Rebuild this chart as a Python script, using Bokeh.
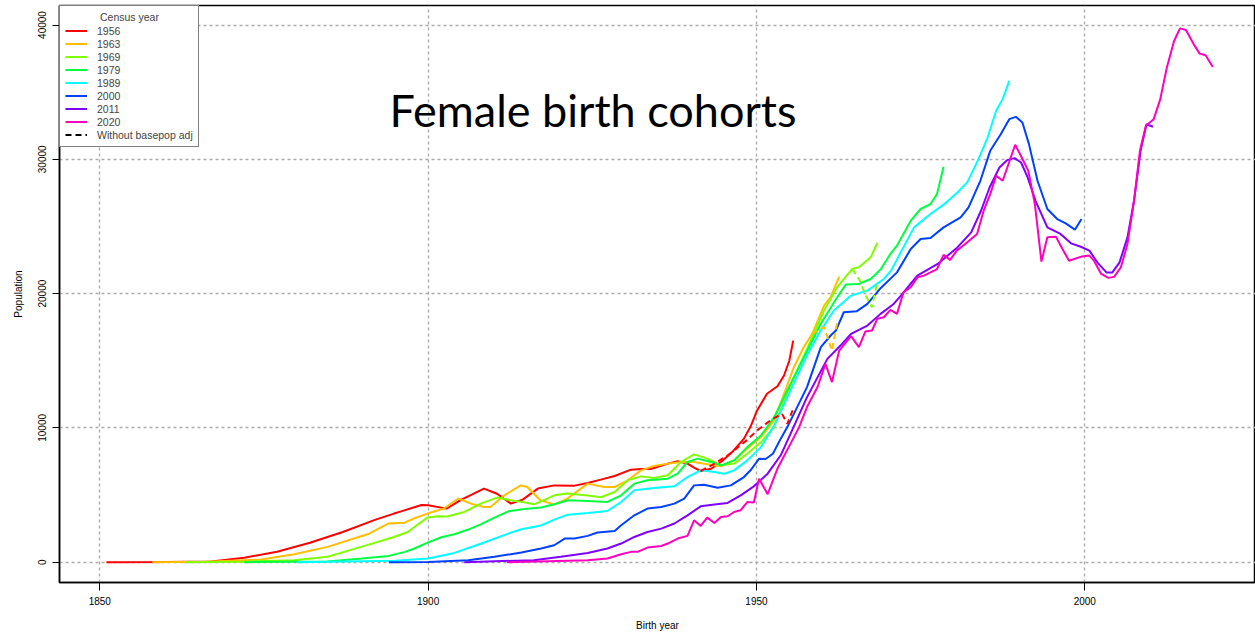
from bokeh.plotting import figure
from bokeh.models import Legend, LegendItem, FixedTicker, Range1d
from bokeh.core.properties import value
from bokeh.embed import file_html
from bokeh.resources import INLINE

census_years = ["1956", "1963", "1969", "1979", "1989", "2000", "2011", "2020"]
colors = ["#FF0000", "#FFBF00", "#80FF00", "#00FF40", "#00FFFF", "#0040FF", "#8000FF", "#FF00BF"]
x_ticks = [1850, 1900, 1950, 2000]
y_ticks = [0, 10000, 20000, 30000, 40000]

yr_1956 = [1851, 1860, 1867, 1872, 1877,
           1882, 1887, 1892, 1894.8, 1896,
           1899, 1900, 1902.8, 1905, 1908.5,
           1910.5, 1912.6, 1914.4, 1916.7, 1919.2,
           1922.3, 1924.3, 1926.3, 1928.4, 1930.9,
           1932.4, 1933.9, 1936.5, 1938, 1939.5,
           1940.5, 1941.5, 1943.1, 1944.6, 1946.3,
           1948.1, 1949.2, 1950.1, 1951.6, 1953.2,
           1954.2, 1955, 1955.6]
pop_1956 = [0, 10, 60, 330, 780,
            1450, 2250, 3170, 3620, 3800,
            4260, 4240, 3990, 4640, 5480,
            5100, 4360, 4660, 5480, 5720,
            5700, 5900, 6150, 6420, 6890,
            6940, 6940, 7340, 7510, 7340,
            7040, 6790, 6960, 7460, 8200,
            9200, 10200, 11300, 12540, 13100,
            13900, 15000, 16500]
yr_1956_nb = [1941.5, 1943.5, 1946, 1948.5, 1950.1, 1952.1, 1953.9, 1954.7, 1955.5]
pop_1956_nb = [6790, 7300, 8080, 9070, 9810, 10550, 11050, 10300, 11300]

yr_1963 = [1858, 1866, 1874.6, 1879.6, 1884.7,
           1888.7, 1890.8, 1893.9, 1896.4, 1897.8,
           1899.9, 1902.4, 1904.6, 1906.5, 1908.5,
           1909.5, 1911.6, 1914.1, 1915.1, 1917.1,
           1919.2, 1921.2, 1924.3, 1926.8, 1928.4,
           1930.4, 1932.4, 1934.4, 1936.5, 1938.5,
           1940.5, 1942.5, 1944.6, 1946.6, 1948.6,
           1950.7, 1952.7, 1954.2, 1955.7, 1957.2,
           1958.5, 1960.3, 1961.3, 1962.6]
pop_1963 = [0, 30, 200, 590, 1140,
            1760, 2080, 2880, 2940, 3250,
            3620, 3990, 4740, 4360, 4110,
            4110, 4980, 5720, 5600, 4610,
            4290, 4730, 5850, 5600, 5600,
            6100, 6840, 7160, 7340, 7460,
            7460, 7290, 7140, 7580, 8450,
            9320, 10560, 12540, 14520, 16010,
            17000, 19110, 19730, 21260]
yr_1963_nb = [1958.5, 1960.3, 1961.5, 1962.3]
pop_1963_nb = [17000, 17500, 15760, 17870]

yr_1969 = [1863, 1872, 1879.6, 1884.7, 1889.8,
           1894.8, 1896.9, 1897.9, 1899.9, 1901.4,
           1902.9, 1905.5, 1908, 1910.5, 1912.6,
           1914.6, 1916.1, 1917.6, 1919.2, 1921.2,
           1924.3, 1926.3, 1928.4, 1930.4, 1932.4,
           1934.4, 1936.5, 1938.5, 1940.5, 1942.5,
           1944.6, 1946.6, 1948.6, 1950.7, 1952.7,
           1954.7, 1957.7, 1960.3, 1962.3, 1963.6,
           1964.6, 1965.6, 1967.4, 1968.4]
pop_1969 = [0, 40, 150, 400, 1140,
            1880, 2250, 2620, 3320, 3420,
            3400, 3740, 4360, 4810, 4610,
            4460, 4310, 4610, 4980, 5110,
            4960, 4840, 5230, 6100, 6390,
            6270, 6470, 7460, 8030, 7710,
            7210, 7340, 8080, 8940, 10060,
            12660, 15890, 18740, 20470, 21260,
            21830, 21960, 22700, 23770]
yr_1969_nb = [1964.6, 1965.7, 1966.6, 1967.6, 1968.4]
pop_1969_nb = [21830, 21000, 19900, 18980, 20900]

yr_1979 = [1872, 1884.7, 1889.9, 1894, 1896.5,
           1897.9, 1900, 1902, 1904, 1906.1,
           1908.1, 1910.1, 1912.2, 1914.7, 1917.2,
           1919.2, 1921.3, 1924.3, 1927.3, 1929.4,
           1931.4, 1933.4, 1936.5, 1938, 1939.5,
           1941, 1943.1, 1944.6, 1946.6, 1948.6,
           1950.7, 1952.7, 1955.2, 1959.8, 1962.3,
           1963.6, 1965.6, 1967.4, 1968.9, 1970.4,
           1971.4, 1973.5, 1975, 1976.5, 1977.5,
           1978.5]
pop_1979 = [0, 50, 270, 470, 770,
            1020, 1480, 1860, 2080, 2430,
            2830, 3320, 3790, 3960, 4070,
            4310, 4610, 4560, 4490, 4980,
            5850, 6100, 6220, 6590, 7460,
            7710, 7460, 7210, 7580, 8570,
            9440, 10800, 13290, 17750, 19730,
            20670, 20720, 21090, 21800, 22950,
            23570, 25430, 26300, 26670, 27410,
            29440]

yr_1989 = [1880, 1895, 1900, 1904, 1908.1,
           1912.2, 1914.2, 1917.2, 1919.2, 1921.3,
           1924.3, 1927.3, 1929.4, 1931.4, 1934.4,
           1937.5, 1939.5, 1941.5, 1943.6, 1945.1,
           1946.6, 1948.6, 1950.7, 1952.7, 1955.2,
           1957.7, 1959.8, 1961.8, 1964.4, 1966.9,
           1969.4, 1970.5, 1971.9, 1974, 1976.5,
           1978.5, 1980.6, 1982.1, 1983.7, 1985.2,
           1986.5, 1987.5, 1988.5]
pop_1989 = [0, 100, 270, 690, 1390,
            2130, 2450, 2730, 3170, 3540,
            3670, 3810, 4480, 5350, 5530,
            5650, 6340, 6840, 6710, 6590,
            6840, 7580, 8570, 10200, 12790,
            15390, 17250, 18740, 19850, 20220,
            21090, 21710, 23000, 24930, 25930,
            26620, 27530, 28280, 29890, 31620,
            33610, 34480, 35840]

yr_2000 = [1894, 1900, 1906.1, 1910.1, 1914.2,
           1917.2, 1919.2, 1920.8, 1922.3, 1924.3,
           1925.8, 1928.4, 1929.4, 1931.4, 1933.4,
           1935.5, 1937.5, 1939, 1940.5, 1942,
           1944.1, 1946.1, 1948.1, 1949.2, 1950.4,
           1951.4, 1952.5, 1953.7, 1954.7, 1957.7,
           1959.8, 1961.3, 1962.1, 1963.3, 1965.3,
           1966.9, 1968.9, 1971.4, 1973.5, 1975,
           1976.5, 1978.5, 1981.1, 1982.3, 1984.1,
           1985.6, 1987.2, 1988.5, 1989.5, 1990.5,
           1991.5, 1992.8, 1994.3, 1995.8, 1997.1,
           1998.5, 1999.5]
pop_2000 = [0, 20, 150, 400, 720,
            1020, 1260, 1760, 1760, 1960,
            2210, 2330, 2750, 3490, 3990,
            4110, 4360, 4730, 5720, 5760,
            5550, 5720, 6340, 6900, 7710,
            7680, 8080, 9200, 10060, 13040,
            16010, 16880, 17250, 18610, 18690,
            19230, 20400, 21580, 23320, 24070,
            24140, 24930, 25670, 26420, 28400,
            30630, 31870, 32990, 33160, 32740,
            31130, 28400, 26300, 25550, 25230,
            24760, 25550]

yr_2011 = [1905.5, 1916.1, 1920.2, 1924.3, 1927.3,
           1929.4, 1931.4, 1933.4, 1935.5, 1937.5,
           1939.5, 1941.5, 1943.6, 1945.6, 1947.6,
           1949.6, 1951.7, 1953.7, 1955.2, 1957.7,
           1960.8, 1962.8, 1964.4, 1966.9, 1968.9,
           1970.9, 1972, 1974.5, 1977.6, 1980.6,
           1982.7, 1984.2, 1985.5, 1987, 1988.2,
           1989.3, 1990.3, 1991.3, 1992.5, 1994.3,
           1996.3, 1997.9, 1999.4, 2000.7, 2001.9,
           2003.3, 2004.2, 2005.3, 2006.5, 2007.5,
           2008.5, 2009.4, 2010.4]
pop_2011 = [0, 150, 400, 690, 1020,
            1390, 1880, 2250, 2500, 2880,
            3490, 4160, 4290, 4410, 4980,
            5650, 6590, 7960, 9570, 12290,
            15140, 16130, 17000, 17620, 18490,
            19230, 19850, 21340, 22210, 23440,
            24560, 26170, 27900, 29390, 29940,
            30090, 29760, 28650, 26910, 24930,
            24440, 23740, 23490, 23200, 22330,
            21580, 21580, 22330, 24190, 26910,
            30630, 32610, 32420]

yr_2020 = [1912, 1924.3, 1927.3, 1929.4, 1930.9,
           1931.9, 1933.4, 1935.5, 1936.5, 1938,
           1939.5, 1940.5, 1941.5, 1942.5, 1943.6,
           1944.6, 1945.6, 1946.6, 1947.6, 1948.6,
           1949.6, 1950.4, 1951.7, 1952.7, 1953.2,
           1955.2, 1956.5, 1957.7, 1959.3, 1960.5,
           1961.5, 1962.6, 1964.4, 1965.6, 1966.6,
           1967.6, 1968.4, 1969.4, 1970.4, 1971.4,
           1972.4, 1973.5, 1974.5, 1975.5, 1976.5,
           1977.5, 1978.5, 1979.5, 1980.5, 1981.8,
           1983.6, 1984.6, 1985.6, 1986.5, 1987.5,
           1989.4, 1990.4, 1991.4, 1992.4, 1993.4,
           1994.3, 1995.6, 1996.6, 1997.6, 1999.6,
           2000.7, 2001.4, 2002.5, 2003.6, 2004.5,
           2005.5, 2006.5, 2007.5, 2008.4, 2009.3,
           2010.5, 2011.5, 2012.5, 2013.6, 2014.5,
           2015.4, 2016.6, 2017.5, 2018.4, 2019.5]
pop_2020 = [0, 150, 270, 590, 770,
            770, 1090, 1210, 1390, 1760,
            1960, 3120, 2700, 3320, 2920,
            3370, 3420, 3740, 3870, 4480,
            4450, 6220, 5060, 6340, 6970,
            8830, 10060, 11550, 13040, 14770,
            13410, 15760, 16830, 16010, 17180,
            17250, 18120, 18240, 18790, 18490,
            20100, 20470, 21210, 21340, 21580,
            21830, 22880, 22510, 23200, 23690,
            24440, 26170, 27410, 28770, 28400,
            31080, 30130, 29140, 26670, 22380,
            24190, 24240, 23320, 22450, 22770,
            22830, 22450, 21460, 21170, 21260,
            21960, 23690, 26910, 30630, 32490,
            32990, 34480, 36830, 38810, 39750,
            39630, 38560, 37870, 37750, 36880]

solid_series = [(yr_1956, pop_1956), (yr_1963, pop_1963), (yr_1969, pop_1969),
                (yr_1979, pop_1979), (yr_1989, pop_1989), (yr_2000, pop_2000),
                (yr_2011, pop_2011), (yr_2020, pop_2020)]
dashed_series = [(yr_1956_nb, pop_1956_nb, 0), (yr_1963_nb, pop_1963_nb, 1),
                 (yr_1969_nb, pop_1969_nb, 2)]

FONT = "Liberation Sans"

p = figure(width=1255, height=636, output_backend="svg", toolbar_location=None,
           x_range=Range1d(1843.86, 2026.0), y_range=Range1d(-1512, 41452),
           min_border_left=59, min_border_right=0, min_border_top=5, min_border_bottom=54,
           background_fill_color="white", border_fill_color="white")
p.outline_line_color = "black"
p.outline_line_width = 1.5

p.xaxis.ticker = FixedTicker(ticks=x_ticks)
p.yaxis.ticker = FixedTicker(ticks=y_ticks)
for ax in (p.xaxis[0], p.yaxis[0]):
    ax.axis_line_color = "black"
    ax.axis_line_width = 1.5
    ax.major_tick_line_color = "black"
    ax.major_tick_line_width = 1
    ax.major_tick_in = 0
    ax.minor_tick_line_color = None
    ax.major_label_text_font = FONT
    ax.major_label_text_font_size = "10px"
    ax.major_label_text_color = "black"
    ax.axis_label_text_font = FONT
    ax.axis_label_text_font_size = "10px"
    ax.axis_label_text_font_style = "normal"
    ax.axis_label_text_color = "black"
p.xaxis.major_tick_out = 8
p.xaxis.major_label_standoff = 6
p.xaxis.axis_label = "Birth year"
p.xaxis.axis_label_standoff = 12
p.yaxis.major_tick_out = 7
p.yaxis.major_label_standoff = 6
p.yaxis.major_label_orientation = "vertical"
p.yaxis.axis_label = "Population"
p.yaxis.axis_label_standoff = 12

for g in (p.xgrid[0], p.ygrid[0]):
    g.grid_line_color = "#aaaaaa"
    g.grid_line_dash = "3 3"
    g.grid_line_width = 1.3

renderers = []
for (xs, ys), c in zip(solid_series, colors):
    renderers.append(p.line(xs, ys, line_color=c, line_width=2))
for xs, ys, i in dashed_series:
    p.line(xs, ys, line_color=colors[i], line_width=2, line_dash="6 4")
dash_r = p.line([float("nan")], [float("nan")], line_color="black", line_width=2, line_dash="6 4")

p.text(x=[1925.1], y=[33700], text=["Female birth cohorts"], text_font=value("Lato"),
       text_font_size="45px", text_align="center", text_baseline="alphabetic",
       text_color="black")

items = [LegendItem(label=lab, renderers=[r]) for lab, r in zip(census_years, renderers)]
items.append(LegendItem(label="Without basepop adj", renderers=[dash_r]))
legend = Legend(items=items, location="top_left", margin=0, padding=5, spacing=0,
                label_height=13, glyph_height=13, glyph_width=22, label_standoff=10,
                label_text_font=FONT, label_text_font_size="10.5px",
                title="\u00a0" * 12 + "Census year", title_text_font=FONT,
                title_text_font_size="10.5px", title_text_font_style="normal",
                title_standoff=1,
                border_line_color="black", border_line_width=1.5,
                background_fill_color="white", background_fill_alpha=1)
p.add_layout(legend)

open("out.html", "w").write(file_html(p, INLINE))
